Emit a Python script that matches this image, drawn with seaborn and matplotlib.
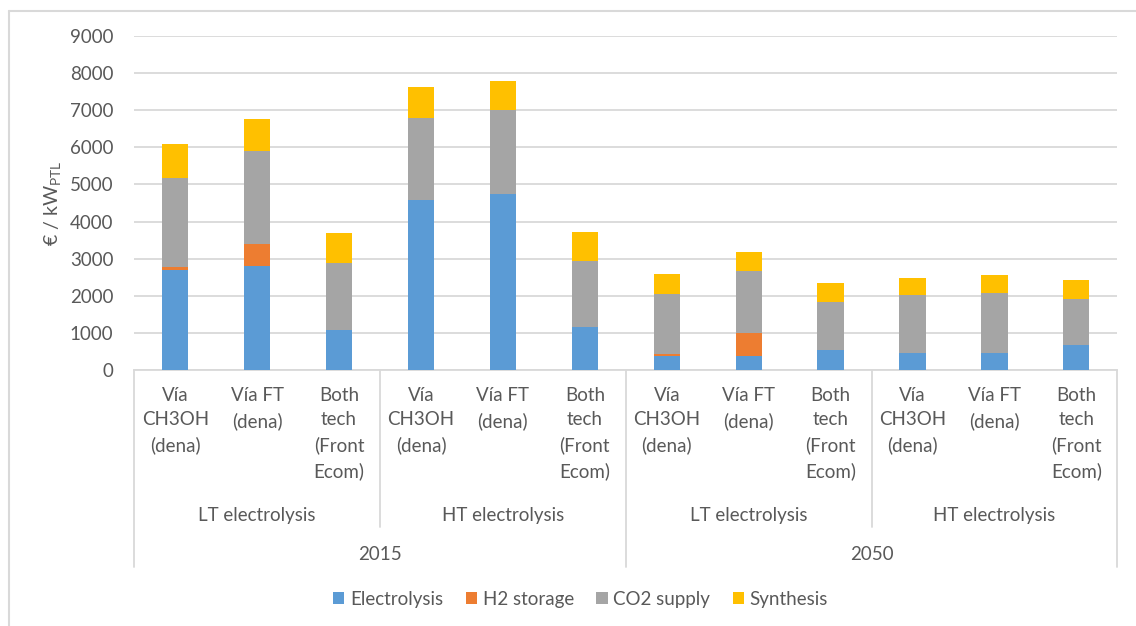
import numpy as np
import pandas as pd
import matplotlib
matplotlib.use("Agg")
import matplotlib.pyplot as plt
import matplotlib.transforms as mtransforms
from matplotlib.lines import Line2D
from matplotlib.patches import Patch
import seaborn as sns

# --- data (€/kW_PTL) -------------------------------------------------------
route_labels = ["Vía\nCH3OH\n(dena)", "Vía FT\n(dena)", "Both\ntech\n(Front\nEcom)"] * 4
tech_labels = ["LT electrolysis", "HT electrolysis", "LT electrolysis", "HT electrolysis"]
year_labels = ["2015", "2050"]

electrolysis = [2700, 2800, 1090, 4590, 4735, 1150, 370, 380, 550, 460, 460, 675]
h2_storage = [75, 600, 0, 0, 0, 0, 70, 620, 0, 0, 0, 0]
co2_supply = [2405, 2500, 1795, 2210, 2270, 1790, 1610, 1670, 1285, 1555, 1615, 1250]
synthesis = [900, 860, 800, 820, 780, 780, 540, 510, 510, 475, 480, 510]

components = ["Electrolysis", "H2 storage", "CO2 supply", "Synthesis"]
colors = ["#5B9BD5", "#ED7D31", "#A5A5A5", "#FFC000"]

GRID = "#D9D9D9"
TEXT = "#595959"

sns.set_theme(style="white")
plt.rcParams["font.family"] = ["Lato", "DejaVu Sans"]
plt.rcParams["mathtext.fontset"] = "custom"
plt.rcParams["mathtext.rm"] = "Lato"

slots = [f"s{i}" for i in range(len(electrolysis))]
df = pd.DataFrame({
    "slot": slots,
    "Electrolysis": electrolysis,
    "H2 storage": h2_storage,
    "CO2 supply": co2_supply,
    "Synthesis": synthesis,
})
cum = df[components].cumsum(axis=1)

W, H, DPI = 1136, 626, 100
fig = plt.figure(figsize=(W / DPI, H / DPI), dpi=DPI)
ax_left, ax_right, ax_top, ax_bottom = 134.3, 1117.3, 36, 370
ax = fig.add_axes([ax_left / W, 1 - ax_bottom / H,
                   (ax_right - ax_left) / W, (ax_bottom - ax_top) / H])

# stacked bars: draw cumulative totals from the top layer down
for comp, col in reversed(list(zip(components, colors))):
    sns.barplot(x=df["slot"], y=cum[comp], order=slots, color=col,
                width=0.32, saturation=1, ax=ax, zorder=3, linewidth=0)

ax.set_ylim(0, 9000)
ax.set_xlim(-0.5, len(slots) - 0.5)
ax.set_yticks(np.arange(0, 9001, 1000))
ax.yaxis.grid(True, color=GRID, linewidth=1.3, zorder=0)
ax.set_axisbelow(True)
ax.tick_params(axis="y", length=0, pad=15, labelsize=13.5, labelcolor=TEXT)
ax.set_xticks([])
ax.set_xlabel("")
ax.set_ylabel(r"€ / kW$_\mathregular{PTL}$", fontsize=14, color=TEXT, labelpad=4)
for s in ["top", "right", "left"]:
    ax.spines[s].set_visible(False)
ax.spines["bottom"].set_color(GRID)
ax.spines["bottom"].set_linewidth(1.3)

# multi-level category axis
ax_h = ax_bottom - ax_top
trans = mtransforms.blended_transform_factory(ax.transData, ax.transAxes)

def frac(py):
    """pixel row below the figure top -> axes fraction"""
    return (ax_bottom - py) / ax_h

n = len(slots)
for i, lab in enumerate(route_labels):
    ax.text(i, frac(387), lab, transform=trans, ha="center", va="top",
            fontsize=13.5, color=TEXT, linespacing=1.53, clip_on=False)
for g, lab in enumerate(tech_labels):
    ax.text(g * 3 + 1, frac(515), lab, transform=trans, ha="center",
            va="center", fontsize=13.5, color=TEXT, clip_on=False)
for y, lab in enumerate(year_labels):
    ax.text(y * 6 + 2.5, frac(555), lab, transform=trans, ha="center",
            va="center", fontsize=13.5, color=TEXT, clip_on=False)

# separators of the category axis
for xpos, yend in [(-0.5, 567), (n - 0.5, 567), (5.5, 567), (2.5, 527), (8.5, 527)]:
    ax.add_line(Line2D([xpos, xpos], [0, frac(yend)], transform=trans,
                       color=GRID, linewidth=1.3, clip_on=False))

# legend
handles = [Patch(facecolor=c, edgecolor="none", label=l) for l, c in zip(components, colors)]
fig.legend(handles=handles, loc="center", bbox_to_anchor=(0.511, 1 - 599 / H),
           ncol=4, frameon=False, fontsize=13.5, handlelength=0.6,
           handleheight=0.6, handletextpad=0.3, columnspacing=1.2,
           labelcolor=TEXT)

# chart-area border
fig.add_artist(Line2D([9 / W, 9 / W], [0, 1 - 11 / H], transform=fig.transFigure,
                      color=GRID, linewidth=1.5))
fig.add_artist(Line2D([9 / W, 1], [1 - 11 / H, 1 - 11 / H], transform=fig.transFigure,
                      color=GRID, linewidth=1.5))

fig.savefig("out.png", dpi=DPI, facecolor="white")
